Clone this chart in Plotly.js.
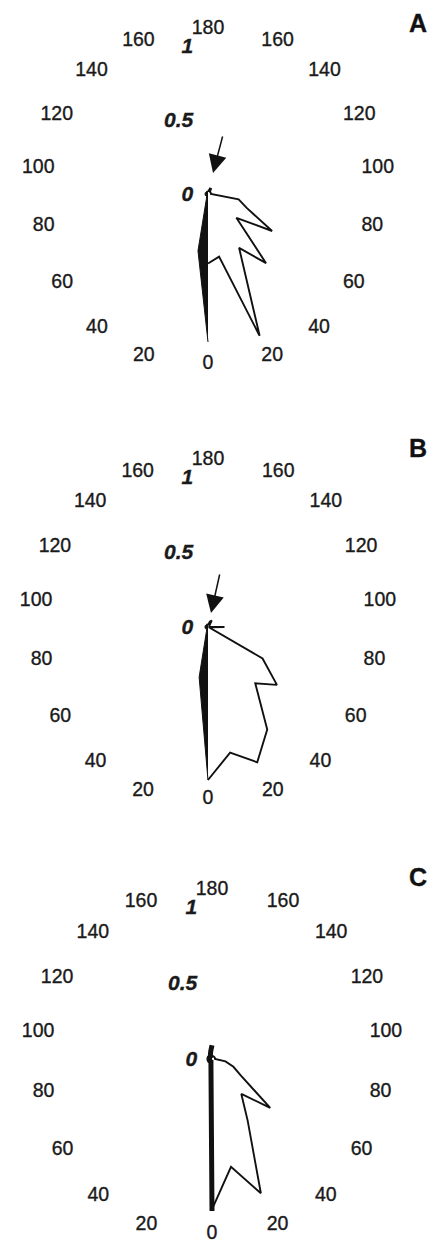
<!DOCTYPE html>
<html>
<head>
<meta charset="utf-8">
<script src="https://cdn.plot.ly/plotly-3.0.1.min.js"></script>
<style>
html,body{margin:0;padding:0;background:#fff;}
#chart{width:433px;height:1246px;}
#chart text{stroke:#1a1a1a;stroke-width:0.35px;}
</style>
</head>
<body>
<div id="chart"></div>
<script>
// Angular positions (degrees, 0 = bottom, 180 = top)
const angles = [0,10,20,30,40,50,60,70,80,90,100,110,120,130,140,150,160,170,180];
// Mirrored angular tick labels
const tickAngles = [0,20,40,60,80,100,120,140,160,180,200,220,240,260,280,300,320,340];
const tickLabels = ['0','20','40','60','80','100','120','140','160','180','160','140','120','100','80','60','40','20'];
const radialTicks = [0, 0.5, 1];
const radialLabels = ['0', '0.5', '1'];
const panelLetters = ['A', 'B', 'C'];

// Panel A
const A_right = [0.47,0.43,1.02,0.42,0.61,0.25,0.50,0.28,0.21,0.02,0.02,0.02,0.02,0.02,0.02,0.04,0.04,0.02,0.02];
const A_left  = [1.00,0.39,0.03,0.02,0.02,0.02,0.02,0.02,0.02,0.02,0.02,0.02,0.02,0.02,0.02,0.02,0.02,0.02,0.02];
// Panel B
const B_right = [1.02,0.85,0.96,0.79,0.49,0.60,0.42,0.01,0.01,0.11,0.01,0.01,0.01,0.01,0.02,0.05,0.04,0.02,0.02];
const B_left  = [1.02,0.34,0.03,0.02,0.02,0.02,0.02,0.02,0.02,0.02,0.02,0.02,0.02,0.02,0.02,0.02,0.02,0.02,0.02];
// Panel C
const C_right = [0.99,0.72,0.94,0.47,0.30,0.50,0.22,0.15,0.09,0.02,0.02,0.02,0.02,0.02,0.02,0.02,0.02,0.02,0.02];
const C_left  = [1.00,0.04,0.02,0.02,0.02,0.02,0.02,0.02,0.02,0.02,0.02,0.02,0.02,0.02,0.02,0.02,0.03,0.05,0.09];

const FONT = 'Liberation Sans, Arial, sans-serif';
const mirror = a => a.map(t => 360 - t);

const panels = [
  {right: A_right, left: A_left, leftWidth: 1, domX: [0.1215, 0.8393], domY: [0.7196, 0.9690]},
  {right: B_right, left: B_left, leftWidth: 1, domX: [0.1166, 0.8441], domY: [0.3704, 0.6232]},
  {right: C_right, left: C_left, leftWidth: 5, domX: [0.1210, 0.8582], domY: [0.0220, 0.2782]}
];

const data = [];
const layout = {
  width: 433, height: 1246,
  margin: {l: 0, r: 0, t: 0, b: 0},
  paper_bgcolor: '#fff',
  showlegend: false,
  font: {family: FONT, color: '#1a1a1a'},
  annotations: []
};

panels.forEach((p, i) => {
  const sp = i === 0 ? 'polar' : 'polar' + (i + 1);
  data.push({
    type: 'scatterpolar', subplot: sp, mode: 'lines',
    r: p.right, theta: angles, fill: 'toself', fillcolor: '#fff',
    line: {color: '#111', width: 1.9}, hoverinfo: 'skip'
  });
  data.push({
    type: 'scatterpolar', subplot: sp, mode: 'lines',
    r: p.left, theta: mirror(angles), fill: 'toself', fillcolor: '#111',
    line: {color: '#111', width: p.leftWidth}, hoverinfo: 'skip'
  });
  layout[sp] = {
    domain: {x: p.domX, y: p.domY},
    bgcolor: 'rgba(0,0,0,0)',
    radialaxis: {
      range: [0, 1.05], angle: 90, side: 'counterclockwise', tickangle: 90,
      tickvals: radialTicks, ticktext: radialLabels,
      showline: false, showgrid: false,
      ticks: 'outside', ticklen: 7, tickcolor: 'rgba(0,0,0,0)',
      tickfont: {family: FONT, size: 21, style: 'italic', weight: 'bold', color: '#1a1a1a'}
    },
    angularaxis: {
      rotation: -90, direction: 'counterclockwise',
      tickvals: tickAngles, ticktext: tickLabels,
      showline: false, showgrid: false, ticks: '',
      tickfont: {family: FONT, size: 19.5, color: '#1a1a1a'}
    }
  };
});

// Panel letters
const letterY = [0.9815, 0.6404, 0.2961];
panelLetters.forEach((t, i) => {
  layout.annotations.push({
    text: t, xref: 'paper', yref: 'paper', x: 0.9654, y: letterY[i],
    xanchor: 'center', yanchor: 'middle', showarrow: false,
    font: {family: FONT, size: 25, weight: 'bold', color: '#111'}
  });
});
// Arrows pointing at the origin (panels A and B)
[[0.4919, 0.8612, 10, -38], [0.4873, 0.5080, 9, -40]].forEach(a => {
  layout.annotations.push({
    text: '', xref: 'paper', yref: 'paper', x: a[0], y: a[1],
    ax: a[2], ay: a[3], showarrow: true,
    arrowhead: 2, arrowsize: 2.4, arrowwidth: 1.5, arrowcolor: '#111'
  });
});

Plotly.newPlot('chart', data, layout, {staticPlot: true, displayModeBar: false});
</script>
</body>
</html>
